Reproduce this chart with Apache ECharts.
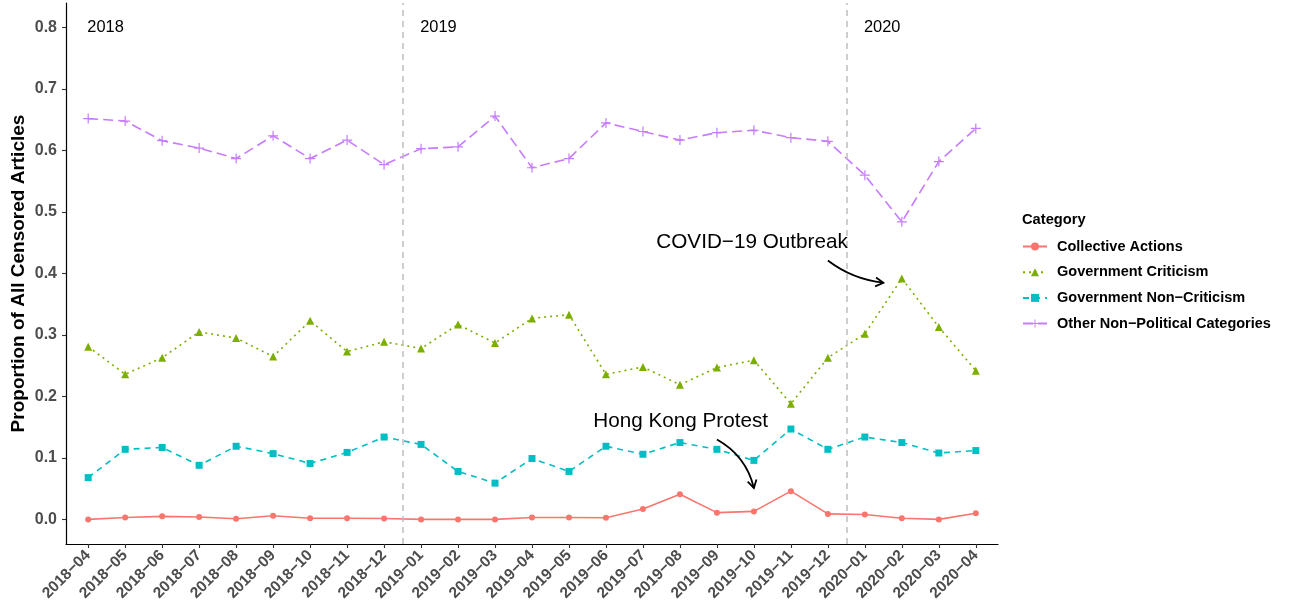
<!DOCTYPE html>
<html>
<head>
<meta charset="utf-8">
<script src="https://cdn.jsdelivr.net/npm/echarts@6/dist/echarts.min.js"></script>
<style>
html,body{margin:0;padding:0;background:#fff;}
#chart{width:1289px;height:607px;}
</style>
</head>
<body>
<div id="chart"></div>
<script>
const M = '\u2212';
const categories = ['2018-04','2018-05','2018-06','2018-07','2018-08','2018-09','2018-10','2018-11','2018-12',
  '2019-01','2019-02','2019-03','2019-04','2019-05','2019-06','2019-07','2019-08','2019-09','2019-10','2019-11','2019-12',
  '2020-01','2020-02','2020-03','2020-04'].map(s => s.replace('-', M));

const collectiveActions = [0.000,0.003,0.005,0.004,0.001,0.006,0.002,0.002,0.0015,0.000,0.000,0.000,0.003,0.003,0.0027,0.017,0.041,0.011,0.013,0.046,0.009,0.008,0.002,0.000,0.010];
const governmentCriticism = [0.281,0.236,0.263,0.305,0.295,0.265,0.323,0.273,0.289,0.278,0.317,0.287,0.327,0.333,0.236,0.248,0.219,0.247,0.259,0.188,0.263,0.302,0.392,0.313,0.242];
const governmentNonCriticism = [0.068,0.114,0.117,0.088,0.119,0.107,0.091,0.109,0.134,0.122,0.078,0.059,0.099,0.078,0.119,0.106,0.125,0.114,0.096,0.147,0.114,0.134,0.125,0.108,0.112];
const otherNonPolitical = [0.652,0.648,0.616,0.604,0.587,0.624,0.587,0.617,0.577,0.603,0.606,0.656,0.572,0.587,0.645,0.631,0.617,0.629,0.633,0.621,0.615,0.560,0.484,0.582,0.636];

const seriesNames = ['Collective Actions','Government Criticism','Government Non' + M + 'Criticism','Other Non' + M + 'Political Categories'];
const yTicks = [0,0.1,0.2,0.3,0.4,0.5,0.6,0.7,0.8];

// year boundaries (between categories) and year labels
const yearBoundaries = [8.5, 20.5];
const yearLabels = ['2018','2019','2020'];
const yearLabelX = [0.47, 9.47, 21.47];
const yearLabelY = 0.8;

// annotations: text position and arrow from/to (category index, value) + curvature
const hkText = {x: 16.02, y: 0.16, text: 'Hong Kong Protest'};
const covidText = {x: 17.95, y: 0.45, text: 'COVID' + M + '19 Outbreak'};
const arrowFromX = [17, 20];
const arrowFromY = [0.130, 0.421];
const arrowToX = [18, 21.5];
const arrowToY = [0.051, 0.385];
const arrowCurve = [0.22, -0.14];

const FONT = '"Liberation Sans", Arial, Helvetica, sans-serif';
const colors = ['#F8766D','#7CAE00','#00BFC4','#C77CFF'];
const plusPath = 'path://M4.4,0H5.6V4.4H10V5.6H5.6V10H4.4V5.6H0V4.4H4.4Z';

const toPairs = arr => arr.map((v, i) => [i, v]);

const chart = echarts.init(document.getElementById('chart'));

const seriesDefs = [
  {data: collectiveActions, symbol: 'circle', symbolSize: 6, type: 'solid', width: 1.6},
  {data: governmentCriticism, symbol: 'triangle', symbolSize: 8, type: [2, 4], width: 1.6},
  {data: governmentNonCriticism, symbol: 'rect', symbolSize: 7, type: [6, 5], width: 1.6},
  {data: otherNonPolitical, symbol: plusPath, symbolSize: 10, type: [10, 5], width: 1.6}
];

const series = seriesDefs.map((d, i) => ({
  name: seriesNames[i],
  type: 'line',
  data: toPairs(d.data),
  symbol: d.symbol,
  symbolSize: d.symbolSize,
  showSymbol: true,
  color: colors[i],
  lineStyle: {color: colors[i], width: d.width, type: d.type},
  itemStyle: {color: colors[i]},
  emphasis: {disabled: true},
  animation: false,
  z: 3
}));

series.push({
  name: 'annot',
  type: 'scatter',
  data: [],
  silent: true,
  animation: false,
  markLine: {
    silent: true,
    animation: false,
    symbol: ['none', 'none'],
    label: {show: false},
    lineStyle: {color: '#BEBEBE', type: [6, 5], width: 1.5},
    data: yearBoundaries.map(x => ({xAxis: x}))
  },
  markPoint: {
    silent: true,
    animation: false,
    symbol: 'rect',
    symbolSize: 1,
    itemStyle: {color: 'rgba(0,0,0,0)'},
    label: {show: true, position: 'inside', color: '#000', fontFamily: FONT},
    data: yearLabels.map((t, i) => ({
      coord: [yearLabelX[i], yearLabelY],
      label: {formatter: t, fontSize: 16.4}
    })).concat([
      {coord: [hkText.x, hkText.y], label: {formatter: hkText.text, fontSize: 20.7}},
      {coord: [covidText.x, covidText.y], label: {formatter: covidText.text, fontSize: 20.7}}
    ])
  }
});

// curved arrows drawn through the axes' scales
series.push({
  name: 'arrows',
  type: 'custom',
  silent: true,
  animation: false,
  z: 5,
  encode: {x: [0, 2], y: [1, 3]},
  data: arrowFromX.map((x, i) => [x, arrowFromY[i], arrowToX[i], arrowToY[i], arrowCurve[i]]),
  renderItem: function (params, api) {
    const p1 = api.coord([api.value(0), api.value(1)]);
    const p2 = api.coord([api.value(2), api.value(3)]);
    const c = api.value(4);
    const cpx = (p1[0] + p2[0]) / 2 - (p1[1] - p2[1]) * c;
    const cpy = (p1[1] + p2[1]) / 2 - (p2[0] - p1[0]) * c;
    let dx = p2[0] - cpx, dy = p2[1] - cpy;
    const len = Math.sqrt(dx * dx + dy * dy);
    dx /= len; dy /= len;
    const L = 9, ang = Math.PI / 6;
    const rot = (x, y, a) => [x * Math.cos(a) - y * Math.sin(a), x * Math.sin(a) + y * Math.cos(a)];
    const a1 = rot(-dx, -dy, ang), a2 = rot(-dx, -dy, -ang);
    const style = {stroke: '#000', lineWidth: 1.8, fill: null};
    return {
      type: 'group',
      children: [
        {type: 'bezierCurve', shape: {x1: p1[0], y1: p1[1], x2: p2[0], y2: p2[1], cpx1: cpx, cpy1: cpy}, style: style},
        {type: 'polyline', shape: {points: [[p2[0] + a1[0] * L, p2[1] + a1[1] * L], p2, [p2[0] + a2[0] * L, p2[1] + a2[1] * L]]}, style: style}
      ]
    };
  }
});

chart.setOption({
  backgroundColor: '#fff',
  animation: false,
  textStyle: {fontFamily: FONT},
  grid: {left: 66, right: 291, top: 3, bottom: 63, containLabel: false},
  title: {
    text: 'Category',
    left: 1017, top: 207,
    textStyle: {fontFamily: FONT, fontSize: 14.7, fontWeight: 'bold', color: '#000'}
  },
  legend: {
    data: seriesNames,
    orient: 'vertical',
    left: 1017, top: 234,
    itemWidth: 24, itemHeight: 10, itemGap: 10.7,
    textStyle: {fontFamily: FONT, fontSize: 14.5, fontWeight: 'bold', color: '#000', padding: [0, 0, 0, 5]},
    selectedMode: false
  },
  xAxis: {
    type: 'value',
    min: -0.6, max: 24.6,
    splitLine: {show: false},
    axisLine: {show: true, onZero: false, lineStyle: {color: '#000', width: 1.2}},
    axisTick: {show: true, customValues: categories.map((c, i) => i), length: 4, lineStyle: {color: '#333', width: 1.1}},
    axisLabel: {
      customValues: categories.map((c, i) => i),
      formatter: v => categories[Math.round(v)],
      rotate: 45, fontSize: 15.5, fontWeight: 'bold', color: '#4D4D4D', fontFamily: FONT, margin: 9
    }
  },
  yAxis: {
    type: 'value',
    min: -0.04, max: 0.84,
    name: 'Proportion of All Censored Articles',
    nameLocation: 'middle',
    nameGap: 38,
    nameMoveOverlap: false,
    nameTextStyle: {fontFamily: FONT, fontSize: 19, fontWeight: 'bold', color: '#000'},
    splitLine: {show: false},
    axisLine: {show: true, onZero: false, lineStyle: {color: '#000', width: 1.2}},
    axisTick: {show: true, customValues: yTicks, length: 4, lineStyle: {color: '#333', width: 1.1}},
    axisLabel: {
      customValues: yTicks,
      formatter: v => v.toFixed(1),
      fontSize: 16, fontWeight: 'bold', color: '#4D4D4D', fontFamily: FONT, margin: 9
    }
  },
  series: series
});
</script>
</body>
</html>
